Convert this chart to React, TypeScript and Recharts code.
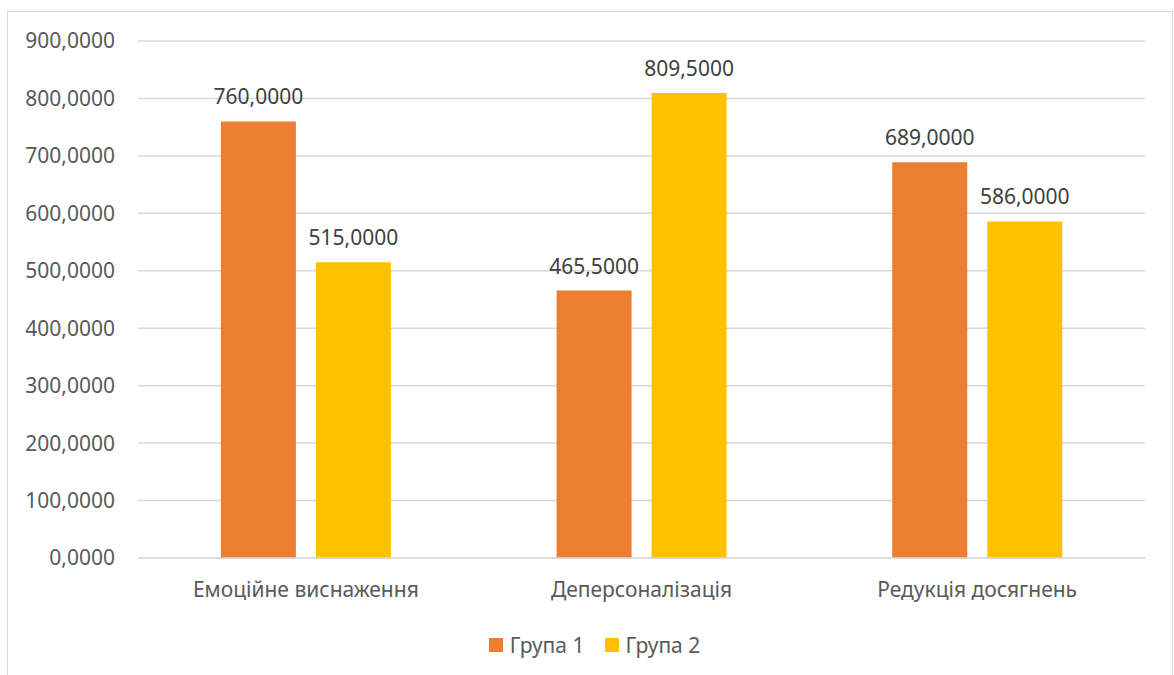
import { BarChart, Bar, XAxis, YAxis, CartesianGrid, LabelList, Legend } from 'recharts';

const categories = ['Емоційне виснаження', 'Деперсоналізація', 'Редукція досягнень'];
const group1 = [760, 465.5, 689];
const group2 = [515, 809.5, 586];
const yTicks = [0, 100, 200, 300, 400, 500, 600, 700, 800, 900];

const data = categories.map((name, i) => ({ name, g1: group1[i], g2: group2[i] }));

const fmt = (v: number) => v.toFixed(4).replace('.', ',');

const FONT = '"Segoe UI", "Noto Sans", sans-serif';

function LegendBox() {
  const items = [
    { label: 'Група 1', color: '#ED7D31' },
    { label: 'Група 2', color: '#FFC000' },
  ];
  return (
    <div style={{ display: 'flex', justifyContent: 'center', gap: 20, paddingLeft: 9, fontFamily: FONT, fontSize: 21, color: '#595959' }}>
      {items.map((it) => (
        <div key={it.label} style={{ display: 'flex', alignItems: 'center', gap: 7 }}>
          <div style={{ width: 14, height: 14, background: it.color }} />
          <span>{it.label}</span>
        </div>
      ))}
    </div>
  );
}

export default function App() {
  return (
    <div
      style={{
        position: 'absolute',
        left: 7,
        top: 11,
        width: 1164,
        height: 680,
        border: '1px solid #d9d9d9',
        background: '#fff',
      }}
    >
      <BarChart
        width={1164}
        height={670}
        data={data}
        margin={{ top: 29, right: 27, left: 0, bottom: 36 }}
        barGap={20}
        barCategoryGap="24.7%"
      >
        <CartesianGrid vertical={false} stroke="#d9d9d9" strokeWidth={1.5} />
        <XAxis
          dataKey="name"
          tickLine={false}
          axisLine={{ stroke: '#d9d9d9', strokeWidth: 1.5 }}
          tick={{ fontSize: 21, fill: '#595959', fontFamily: FONT }}
          tickMargin={18}
          height={60}
        />
        <YAxis
          width={130}
          domain={[0, 900]}
          ticks={yTicks}
          tickFormatter={fmt}
          axisLine={false}
          tickLine={false}
          tick={{ fontSize: 21, fill: '#595959', fontFamily: FONT }}
          tickMargin={17}
        />
        <Legend
          content={<LegendBox />}
          wrapperStyle={{ position: 'absolute', top: 619, left: 0, width: 1164 }}
        />
        <Bar dataKey="g1" name="Група 1" fill="#ED7D31" isAnimationActive={false}>
          <LabelList dataKey="g1" position="top" offset={17} formatter={fmt} style={{ fontSize: 21, fill: '#404040', fontFamily: FONT }} />
        </Bar>
        <Bar dataKey="g2" name="Група 2" fill="#FFC000" isAnimationActive={false}>
          <LabelList dataKey="g2" position="top" offset={17} formatter={fmt} style={{ fontSize: 21, fill: '#404040', fontFamily: FONT }} />
        </Bar>
      </BarChart>
    </div>
  );
}
